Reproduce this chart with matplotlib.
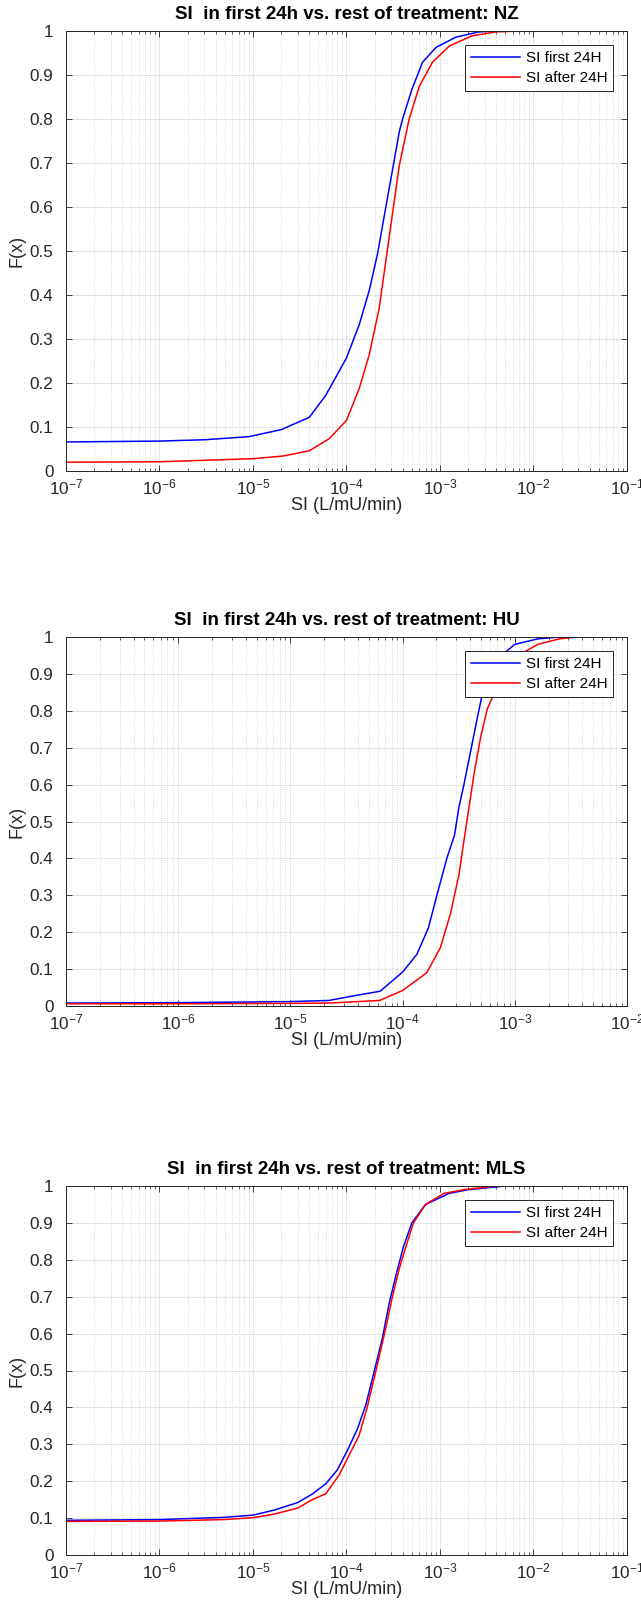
# CDF of SI: first 24h vs rest of treatment, three cohorts

import numpy as np
import matplotlib
matplotlib.use("Agg")
import matplotlib.pyplot as plt
from matplotlib.ticker import LogLocator, FixedLocator, NullFormatter

plt.rcParams['font.family'] = ['Liberation Sans', 'DejaVu Sans']
plt.rcParams['mathtext.fontset'] = 'custom'
plt.rcParams['mathtext.rm'] = 'Liberation Sans'
plt.rcParams['mathtext.default'] = 'regular'

# NZ
nz_first_x = [1e-7, 1e-7, 1e-6, 3e-6, 9e-6, 2e-5, 4e-5, 6e-5, 1e-4, 1.37e-4, 1.75e-4,
              2.15e-4, 2.64e-4, 3.11e-4, 3.66e-4, 3.98e-4, 5e-4, 6.5e-4, 9.1e-4,
              1.48e-3, 2.6e-3, 4e-3, 9e-3]
nz_first_F = [0, 0.066, 0.068, 0.071, 0.078, 0.094, 0.122, 0.172, 0.257, 0.333, 0.41,
              0.494, 0.601, 0.685, 0.77, 0.80, 0.867, 0.929, 0.963,
              0.986, 0.998, 1.0, 1.0]
nz_after_x = [1e-7, 1e-7, 1e-6, 1e-5, 2.1e-5, 4e-5, 6.5e-5, 1e-4, 1.37e-4, 1.75e-4,
              2.24e-4, 2.64e-4, 3.11e-4, 3.66e-4, 4.68e-4, 6e-4, 8.3e-4, 1.26e-3,
              2.2e-3, 4e-3, 7e-3, 1.15e-2]
nz_after_F = [0, 0.02, 0.021, 0.028, 0.034, 0.046, 0.073, 0.115, 0.188, 0.264,
              0.371, 0.479, 0.586, 0.693, 0.80, 0.874, 0.929, 0.966,
              0.989, 0.998, 1.0, 1.0]

# HU
hu_first_x = [1e-7, 1e-7, 1e-6, 1e-5, 2.2e-5, 3.9e-5, 6.3e-5, 1e-4, 1.34e-4, 1.7e-4,
              2.02e-4, 2.49e-4, 2.9e-4, 3.18e-4, 3.52e-4, 4.05e-4, 4.65e-4, 5.25e-4,
              6e-4, 7.6e-4, 1e-3, 1.6e-3, 2.5e-3, 3.7e-3]
hu_first_F = [0, 0.008, 0.009, 0.012, 0.015, 0.029, 0.04, 0.092, 0.14, 0.212,
              0.3, 0.402, 0.463, 0.539, 0.60, 0.692, 0.783, 0.86,
              0.90, 0.95, 0.98, 0.995, 1.0, 1.0]
hu_after_x = [1e-7, 1e-7, 1e-6, 1e-5, 2.2e-5, 6.25e-5, 1e-4, 1.64e-4, 2.17e-4, 2.67e-4,
              3.18e-4, 3.52e-4, 3.91e-4, 4.34e-4, 4.97e-4, 5.7e-4, 6.8e-4, 7.9e-4,
              1.07e-3, 1.6e-3, 2.5e-3, 3.5e-3, 7.6e-3]
hu_after_F = [0, 0.006, 0.006, 0.007, 0.008, 0.015, 0.042, 0.09, 0.158, 0.25,
              0.356, 0.448, 0.539, 0.63, 0.73, 0.806, 0.859, 0.90,
              0.95, 0.98, 0.995, 1.0, 1.0]

# MLS
mls_first_x = [1e-7, 1e-7, 1e-6, 4.9e-6, 1e-5, 1.7e-5, 3e-5, 4.3e-5, 6e-5, 8e-5,
               1.03e-4, 1.31e-4, 1.61e-4, 1.98e-4, 2.43e-4, 2.86e-4, 3.38e-4, 4.05e-4,
               5e-4, 7e-4, 1.25e-3, 2e-3, 5e-3, 1.3e-2]
mls_first_F = [0, 0.094, 0.096, 0.102, 0.108, 0.122, 0.142, 0.165, 0.193, 0.231,
               0.285, 0.342, 0.407, 0.498, 0.59, 0.682, 0.758, 0.834,
               0.90, 0.95, 0.98, 0.99, 1.0, 1.0]
mls_after_x = [1e-7, 1e-7, 1e-6, 4.9e-6, 1e-5, 1.7e-5, 3e-5, 4.3e-5, 6e-5, 8.3e-5,
               1.06e-4, 1.36e-4, 1.66e-4, 2.13e-4, 2.62e-4, 3.08e-4, 3.64e-4, 4.3e-4,
               5.2e-4, 7e-4, 1.1e-3, 1.8e-3, 4e-3, 8e-3]
mls_after_F = [0, 0.091, 0.092, 0.096, 0.101, 0.111, 0.127, 0.15, 0.166, 0.216,
               0.269, 0.323, 0.399, 0.514, 0.613, 0.697, 0.773, 0.834,
               0.90, 0.95, 0.98, 0.99, 1.0, 1.0]

titles = ['SI  in first 24h vs. rest of treatment: NZ',
          'SI  in first 24h vs. rest of treatment: HU',
          'SI  in first 24h vs. rest of treatment: MLS']
xmax = [1e-1, 1e-2, 1e-1]
series = [(nz_first_x, nz_first_F, nz_after_x, nz_after_F),
          (hu_first_x, hu_first_F, hu_after_x, hu_after_F),
          (mls_first_x, mls_first_F, mls_after_x, mls_after_F)]

W, H = 641, 1607
fig = plt.figure(figsize=(W/100, H/100), dpi=100)
# axes boxes in pixels: left, top, right, bottom
boxes = [(66, 31, 627, 471), (66, 637, 627, 1006), (66, 1186, 627, 1555)]

for i in range(3):
    l, t, r, b = boxes[i]
    ax = fig.add_axes([l/W, 1 - b/H, (r-l)/W, (b-t)/H])
    bx, bF, rx, rF = series[i]
    ax.plot(bx, bF, color=(0, 0, 1), lw=1.1, label='SI first 24H')
    ax.plot(rx, rF, color=(1, 0, 0), lw=1.1, label='SI after 24H')
    ax.set_xscale('log')
    ax.set_xlim(1e-7, xmax[i])
    ax.set_ylim(0, 1)
    ax.xaxis.set_major_locator(LogLocator(base=10, numticks=20))
    ax.xaxis.set_minor_locator(LogLocator(base=10, subs=np.arange(2, 10), numticks=20))
    ax.xaxis.set_minor_formatter(NullFormatter())
    ax.yaxis.set_major_locator(FixedLocator(np.arange(0, 1.01, 0.1)))
    ax.set_yticklabels(['0'] + ['%.1f' % v for v in np.arange(0.1, 0.95, 0.1)] + ['1'])
    ax.grid(True, which='major', color='#e0e0e0', lw=0.6, ls='-')
    ax.grid(True, which='minor', axis='x', color='#cfcfcf', lw=0.6, ls=':')
    ax.set_axisbelow(True)
    ax.tick_params(which='both', direction='in', top=True, right=True,
                   labelsize=12.3, colors='#262626')
    ax.tick_params(axis='x', pad=4.5)
    ax.tick_params(axis='y', pad=9)
    ax.tick_params(which='major', length=4, width=0.6)
    ax.tick_params(which='minor', length=2, width=0.5)
    for s in ax.spines.values():
        s.set_color('#262626')
        s.set_linewidth(0.7)
    ax.set_title(titles[i], fontsize=13.5, fontweight='bold', pad=8.5)
    ax.set_xlabel('SI (L/mU/min)', fontsize=13, color='#262626', labelpad=0)
    ax.set_ylabel('F(x)', fontsize=13, color='#262626', labelpad=3)
    leg = ax.legend(loc='upper right', fontsize=11, fancybox=False, framealpha=1,
                    edgecolor='#262626', handlelength=3.2, borderaxespad=0.9,
                    borderpad=0.4, labelspacing=0.4, handletextpad=0.35)
    leg.get_frame().set_linewidth(0.7)

fig.savefig('out.png', dpi=100)
